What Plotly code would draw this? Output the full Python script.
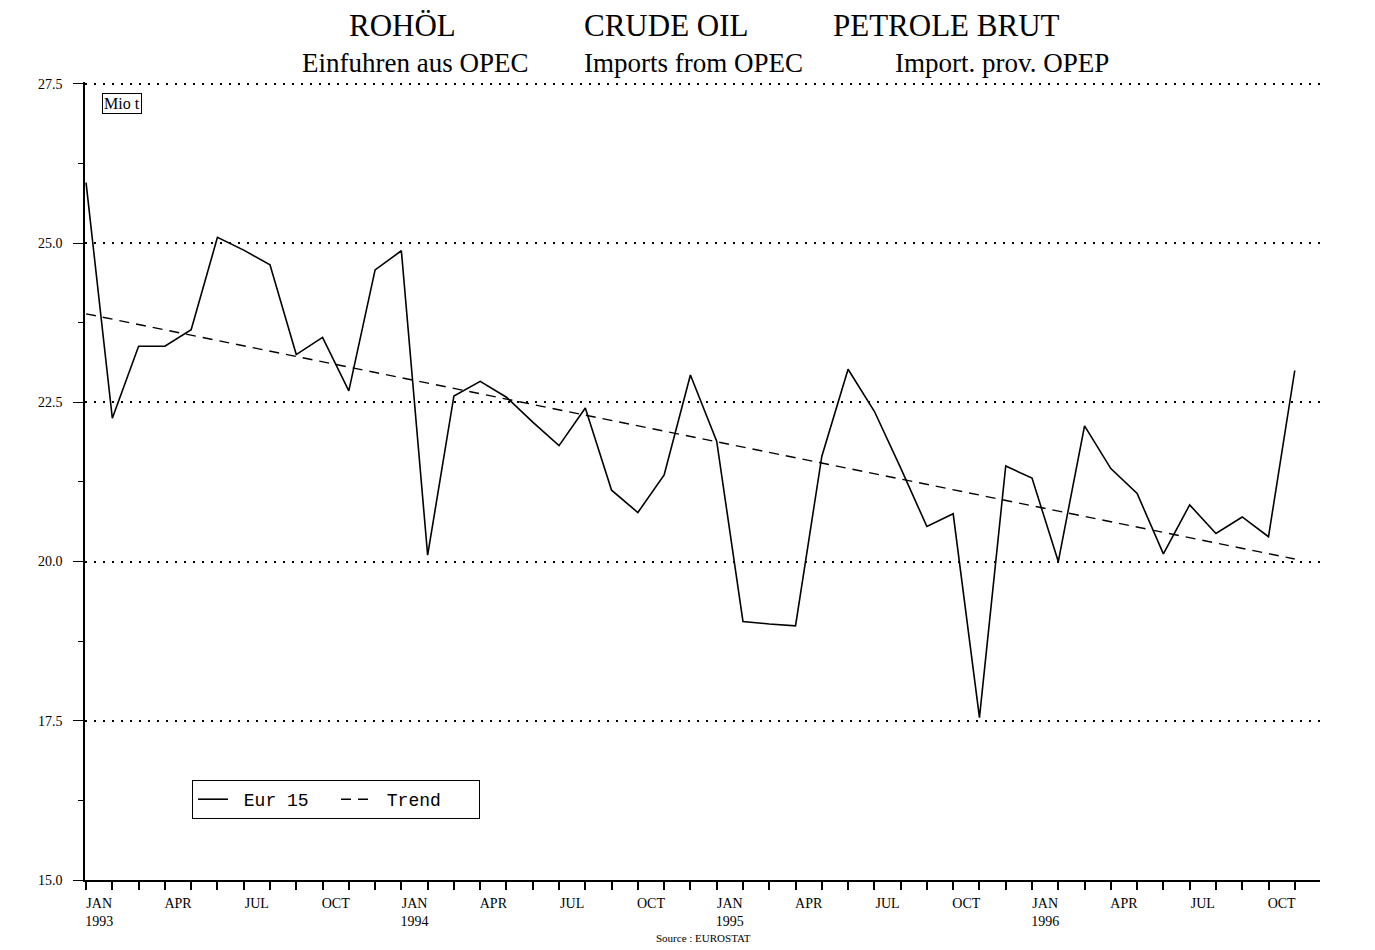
import plotly.graph_objects as go

# ---- data (monthly, JAN 1993 .. ) ----
month_index = list(range(47))
eur15 = [25.95, 22.25, 23.38, 23.38, 23.64, 25.09, 24.89, 24.66, 23.25, 23.52,
         22.68, 24.58, 24.88, 20.10, 22.60, 22.83, 22.58, 22.19, 21.82, 22.41,
         21.12, 20.77, 21.36, 22.93, 21.89, 19.06, 19.02, 18.99, 21.65, 23.02,
         22.36, 21.47, 20.55, 20.75, 17.55, 21.50, 21.31, 20.00, 22.13, 21.46,
         21.07, 20.12, 20.89, 20.44, 20.70, 20.39, 23.00]
trend_x = [0, 46]
trend_y = [23.89, 20.04]

label_pos = [0.5 + 3 * k for k in range(16)]
label_text = ["JAN<br>1993", "APR", "JUL", "OCT",
              "JAN<br>1994", "APR", "JUL", "OCT",
              "JAN<br>1995", "APR", "JUL", "OCT",
              "JAN<br>1996", "APR", "JUL", "OCT"]
y_ticks = [15.0, 17.5, 20.0, 22.5, 25.0, 27.5]
y_labels = ["15.0", "17.5", "20.0", "22.5", "25.0", "27.5"]

SERIF = "Liberation Serif, Times New Roman, serif"
MONO = "Liberation Mono, Courier New, monospace"

fig = go.Figure()
fig.add_trace(go.Scatter(x=month_index, y=eur15, mode="lines", name="\u00a0Eur 15",
                         line=dict(color="black", width=1.6)))
fig.add_trace(go.Scatter(x=trend_x, y=trend_y, mode="lines", name="\u00a0Trend",
                         line=dict(color="black", width=1.4, dash="10px,7px")))

# page body adds an 8px offset; target plot area on screen: x 85..1320, y 82..880
OFF = 8
Y_TOP = 27.53
SL, ST, SR, SB = 85, 82, 1320, 880
PW = SR - SL
PH = SB - ST
L = SL - OFF
T = ST - OFF
R = 1375 - L - PW
B = 950 - T - PH


def px_x(p):
    return (p - SL) / PW


def px_y(p):
    return 1 - (p - ST) / PH


fig.update_layout(
    width=1375, height=950,
    margin=dict(l=L, r=R, t=T, b=B),
    paper_bgcolor="white", plot_bgcolor="white",
    font=dict(family=SERIF, color="black"),
    showlegend=True,
    legend=dict(orientation="h", x=px_x(192), y=px_y(780), xanchor="left", yanchor="top",
                bordercolor="black", borderwidth=1, bgcolor="white",
                font=dict(family=MONO, size=18, color="black"),
                itemwidth=30, tracegroupgap=0, entrywidth=98, entrywidthmode="pixels"),
    xaxis=dict(range=[-0.04, 46.96], showgrid=False, zeroline=False,
               showline=True, linecolor="black", linewidth=1.5,
               tickmode="array", tickvals=label_pos, ticktext=label_text,
               ticks="", tickfont=dict(family=SERIF, size=14, color="black"),
               ticklabelstandoff=9,
               minor=dict(ticks="outside", ticklen=8, tickcolor="black", tickwidth=1.5,
                          tickmode="linear", tick0=0, dtick=1, showgrid=False)),
    yaxis=dict(range=[15, Y_TOP], showgrid=True, gridcolor="black", gridwidth=1.5,
               griddash="2px,7px", zeroline=False,
               showline=True, linecolor="black", linewidth=1.5,
               tickmode="array", tickvals=y_ticks, ticktext=y_labels,
               ticks="outside", ticklen=10, tickcolor="black", tickwidth=1.2,
               ticklabelstandoff=8,
               tickfont=dict(family=SERIF, size=14, color="black"),
               minor=dict(ticks="outside", ticklen=5, tickcolor="black",
                          tickmode="linear", tick0=15, dtick=1.25, showgrid=False)),
)

titles = [("ROHÖL", 402), ("CRUDE OIL", 666), ("PETROLE BRUT", 946)]
subtitles = [("Einfuhren aus OPEC", 415), ("Imports from OPEC", 693), ("Import. prov. OPEP", 1002)]
for txt, cx in titles:
    fig.add_annotation(text=txt, x=px_x(cx), y=px_y(25), xref="paper", yref="paper",
                       xanchor="center", yanchor="middle", showarrow=False,
                       font=dict(family=SERIF, size=31, color="black"))
for txt, cx in subtitles:
    fig.add_annotation(text=txt, x=px_x(cx), y=px_y(63), xref="paper", yref="paper",
                       xanchor="center", yanchor="middle", showarrow=False,
                       font=dict(family=SERIF, size=27, color="black"))

fig.add_annotation(text="Mio t", x=px_x(102), y=px_y(93), xref="paper", yref="paper",
                   xanchor="left", yanchor="top", showarrow=False,
                   bordercolor="black", borderwidth=1, borderpad=1, bgcolor="white",
                   font=dict(family=SERIF, size=16, color="black"))
fig.add_annotation(text="Source : EUROSTAT", x=px_x(703), y=px_y(938), xref="paper", yref="paper",
                   xanchor="center", yanchor="middle", showarrow=False,
                   font=dict(family=SERIF, size=11, color="black"))

fig.write_html("out.html")
